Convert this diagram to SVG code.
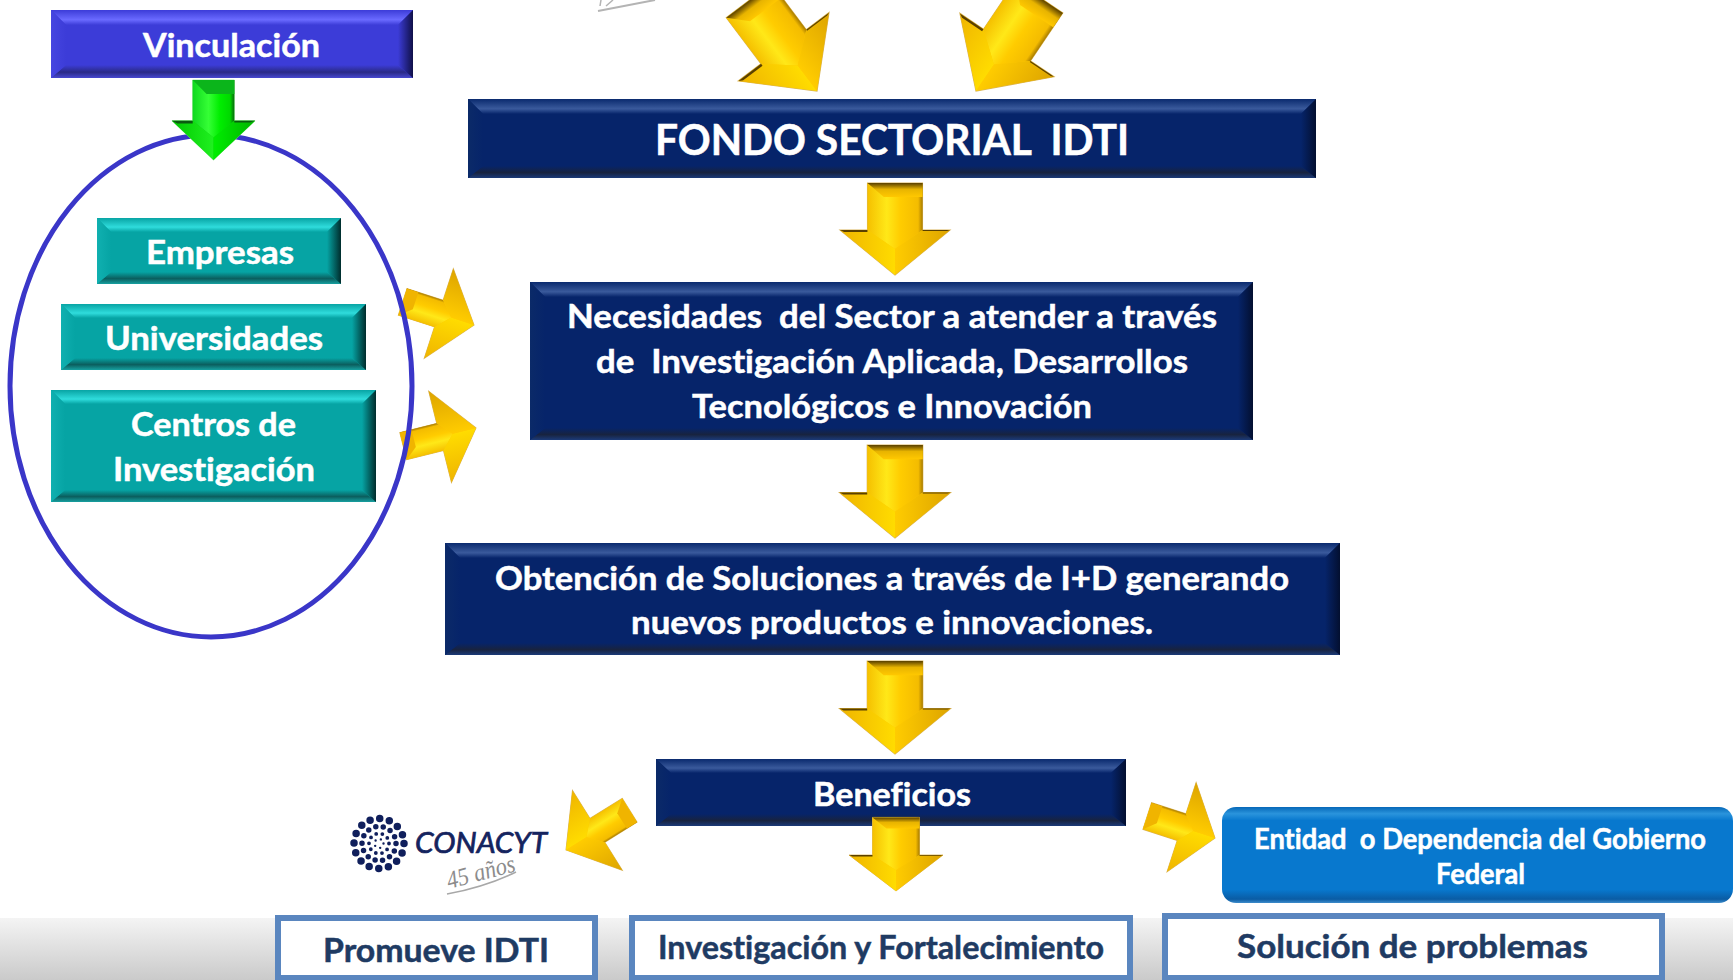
<svg xmlns="http://www.w3.org/2000/svg" width="1733" height="980" viewBox="0 0 1733 980">
<style>
.t{font-family:Lato,"Liberation Sans",sans-serif;font-weight:700;fill:#fff;stroke:#fff;stroke-width:.5;white-space:pre;font-variant-ligatures:none}
.d{fill:#1f3b63;stroke:#1f3b63}
.ln{fill:#fff;stroke:#5a86bf;stroke-width:6}
.e{stroke:#d9b45a;stroke-width:1}
.dk{fill:#5a4000}
.gk{fill:#0b5a10}
</style>
<defs>
<linearGradient id="band" x1="0" y1="0" x2="0" y2="1"><stop offset="0" stop-color="#f4f4f4"/><stop offset="1" stop-color="#cacaca"/></linearGradient>
<linearGradient id="navT" x1="0" y1="0" x2="0" y2="1"><stop offset="0" stop-color="#0a2a6e"/><stop offset=".65" stop-color="#3a5a9c"/><stop offset="1" stop-color="#06246a"/></linearGradient>
<linearGradient id="navB" x1="0" y1="0" x2="0" y2="1"><stop offset="0" stop-color="#06246a"/><stop offset=".55" stop-color="#18233f"/><stop offset="1" stop-color="#1b3a78"/></linearGradient>
<linearGradient id="navL" x1="0" y1="0" x2="1" y2="0"><stop offset="0" stop-color="#0b2a68"/><stop offset="1" stop-color="#06246a"/></linearGradient>
<linearGradient id="navR" x1="0" y1="0" x2="1" y2="0"><stop offset="0" stop-color="#06246a"/><stop offset="1" stop-color="#030f30"/></linearGradient>
<linearGradient id="bluT" x1="0" y1="0" x2="0" y2="1"><stop offset="0" stop-color="#3c3cd8"/><stop offset=".65" stop-color="#6a6aff"/><stop offset="1" stop-color="#3c3cd8"/></linearGradient>
<linearGradient id="bluB" x1="0" y1="0" x2="0" y2="1"><stop offset="0" stop-color="#3c3cd8"/><stop offset=".55" stop-color="#2a2a86"/><stop offset="1" stop-color="#4848d0"/></linearGradient>
<linearGradient id="bluL" x1="0" y1="0" x2="1" y2="0"><stop offset="0" stop-color="#4646e0"/><stop offset="1" stop-color="#3c3cd8"/></linearGradient>
<linearGradient id="bluR" x1="0" y1="0" x2="1" y2="0"><stop offset="0" stop-color="#3c3cd8"/><stop offset="1" stop-color="#101048"/></linearGradient>
<linearGradient id="tealT" x1="0" y1="0" x2="0" y2="1"><stop offset="0" stop-color="#08a4a4"/><stop offset=".65" stop-color="#2fdcdc"/><stop offset="1" stop-color="#06a4a4"/></linearGradient>
<linearGradient id="tealB" x1="0" y1="0" x2="0" y2="1"><stop offset="0" stop-color="#06a4a4"/><stop offset=".55" stop-color="#0b5e5e"/><stop offset="1" stop-color="#17a0a0"/></linearGradient>
<linearGradient id="tealL" x1="0" y1="0" x2="1" y2="0"><stop offset="0" stop-color="#10b0b0"/><stop offset="1" stop-color="#06a4a4"/></linearGradient>
<linearGradient id="tealR" x1="0" y1="0" x2="1" y2="0"><stop offset="0" stop-color="#06a4a4"/><stop offset="1" stop-color="#002c2c"/></linearGradient>
<linearGradient id="ent" x1="0" y1="0" x2="0" y2="1"><stop offset="0" stop-color="#0668b8"/><stop offset=".07" stop-color="#2a94dc"/><stop offset=".14" stop-color="#0878ce"/><stop offset=".86" stop-color="#0878ce"/><stop offset=".96" stop-color="#0a5ca4"/><stop offset="1" stop-color="#3d8ccb"/></linearGradient>
<linearGradient id="gS" x1="0" y1="0" x2="1" y2="0"><stop offset="0" stop-color="#f5c000"/><stop offset=".35" stop-color="#ffe818"/><stop offset=".6" stop-color="#ffcc00"/><stop offset=".92" stop-color="#f4bc00"/><stop offset="1" stop-color="#a87c00"/></linearGradient>
<linearGradient id="gT" x1="0" y1="0" x2="0" y2="1"><stop offset="0" stop-color="#5a4000"/><stop offset=".45" stop-color="#e8b400"/><stop offset="1" stop-color="#ffc800"/></linearGradient>
<linearGradient id="gL" x1="0" y1="0" x2="1" y2="0"><stop offset="0" stop-color="#efb400"/><stop offset="1" stop-color="#ffdc00"/></linearGradient>
<linearGradient id="gR" x1="0" y1="0" x2="1" y2="0"><stop offset="0" stop-color="#ffcc00"/><stop offset="1" stop-color="#dda400"/></linearGradient>
<linearGradient id="vS" x1="0" y1="0" x2="1" y2="0"><stop offset="0" stop-color="#0fd81f"/><stop offset=".38" stop-color="#35ff35"/><stop offset=".65" stop-color="#00ee00"/><stop offset=".9" stop-color="#00d800"/><stop offset="1" stop-color="#0a6a10"/></linearGradient>
<linearGradient id="vL" x1="0" y1="0" x2="1" y2="0"><stop offset="0" stop-color="#00c800"/><stop offset="1" stop-color="#20f020"/></linearGradient>
<linearGradient id="vR" x1="0" y1="0" x2="1" y2="0"><stop offset="0" stop-color="#00ee00"/><stop offset="1" stop-color="#00b400"/></linearGradient>
<g id="aw">
<polygon class="e" points="-27,-92 27,-92 27,-45 54,-45 0,0 -54,-45 -27,-45" fill="#ffc800"/>
<polygon points="-27,-92 27,-92 27,-45 0,-26 -27,-45" fill="url(#gS)"/>
<polygon points="-27,-92 27,-92 27,-78 -11,-78" fill="url(#gT)"/>
<polygon points="-54,-45 -27,-45 0,-26 0,0" fill="url(#gL)"/>
<polygon points="54,-45 27,-45 0,-26 0,0" fill="url(#gR)"/>
<polygon class="dk" points="-54,-45 -27,-45 -27,-43 -50,-43"/>
<polygon class="dk" points="54,-45 27,-45 27,-44 51,-44"/>
</g>
<g id="an">
<polygon class="e" points="-14,-75 14,-75 14,-37 47,-37 0,0 -47,-37 -14,-37" fill="#ffc800"/>
<polygon points="-14,-75 14,-75 14,-37 0,-24 -14,-37" fill="url(#gS)"/>
<polygon points="-14,-75 14,-75 14,-63 -4,-63" fill="#f0b400"/>
<polygon points="-47,-37 -14,-37 0,-24 0,0" fill="url(#gL)"/>
<polygon points="47,-37 14,-37 0,-24 0,0" fill="url(#gR)"/>
</g>
<g id="av">
<polygon points="-27,-92 27,-92 27,-45 54,-45 0,0 -54,-45 -27,-45" fill="#10d010" stroke="#8ae08a" stroke-width=".8"/>
<polygon points="-27,-92 27,-92 27,-45 0,-26 -27,-45" fill="url(#vS)"/>
<polygon points="-27,-92 27,-92 27,-76 -9,-76" fill="#0bb51b"/>
<polygon points="-54,-45 -27,-45 0,-26 0,0" fill="url(#vL)"/>
<polygon points="54,-45 27,-45 0,-26 0,0" fill="url(#vR)"/>
<polygon class="gk" points="-54,-45 -27,-45 -27,-42 -47,-42"/>
<polygon class="gk" points="54,-45 27,-45 27,-43 47,-43"/>
</g>
</defs>
<rect width="1733" height="980" fill="#fff"/>
<rect id="band-bottom" x="0" y="918" width="1733" height="62" fill="url(#band)"/>
<g id="logo-top-fragment" fill="none" stroke="#b4b4b4">
<path d="M598 11L655 0" stroke-width="2"/>
<path d="M600 6L601 0M606 6L613 0" stroke-width="1.5"/>
</g>

<g id="connectors-side">
<use href="#an" transform="translate(474,325) rotate(-72)"/>
<use href="#an" transform="translate(476,428) rotate(-104)"/>
</g>

<g id="node-ellipse"><ellipse cx="211" cy="386" rx="201" ry="251" fill="none" stroke="#3a36c8" stroke-width="5"/></g>

<g id="node-vinculacion">
<rect x="51" y="10" width="362" height="68" fill="#3c3cd8"/>
<polygon points="51,10 413,10 398,25 66,25" fill="url(#bluT)"/>
<polygon points="51,78 413,78 398,65 66,65" fill="url(#bluB)"/>
<polygon points="51,10 66,25 66,65 51,78" fill="url(#bluL)"/>
<polygon points="413,10 398,25 398,65 413,78" fill="url(#bluR)"/>
<text class="t" x="143" y="57" font-size="33" textLength="177" lengthAdjust="spacingAndGlyphs">Vinculación</text>
</g>

<g id="node-fondo">
<rect x="468" y="99" width="848" height="79" fill="#06246a"/>
<polygon points="468,99 1316,99 1301,114 483,114" fill="url(#navT)"/>
<polygon points="468,178 1316,178 1301,166 483,166" fill="url(#navB)"/>
<polygon points="468,99 483,114 483,166 468,178" fill="url(#navL)"/>
<polygon points="1316,99 1301,114 1301,166 1316,178" fill="url(#navR)"/>
<text class="t" x="655" y="155" font-size="42" textLength="474" lengthAdjust="spacingAndGlyphs">FONDO SECTORIAL  IDTI</text>
</g>

<g id="node-necesidades">
<rect x="530" y="282" width="723" height="158" fill="#06246a"/>
<polygon points="530,282 1253,282 1238,297 545,297" fill="url(#navT)"/>
<polygon points="530,440 1253,440 1238,428 545,428" fill="url(#navB)"/>
<polygon points="530,282 545,297 545,428 530,440" fill="url(#navL)"/>
<polygon points="1253,282 1238,297 1238,428 1253,440" fill="url(#navR)"/>
<text class="t" x="567" y="328" font-size="33" textLength="650" lengthAdjust="spacingAndGlyphs">Necesidades  del Sector a atender a través</text>
<text class="t" x="596" y="373" font-size="33" textLength="592" lengthAdjust="spacingAndGlyphs">de  Investigación Aplicada, Desarrollos</text>
<text class="t" x="692" y="418" font-size="33" textLength="400" lengthAdjust="spacingAndGlyphs">Tecnológicos e Innovación</text>
</g>

<g id="node-obtencion">
<rect x="445" y="543" width="895" height="112" fill="#06246a"/>
<polygon points="445,543 1340,543 1325,558 460,558" fill="url(#navT)"/>
<polygon points="445,655 1340,655 1325,643 460,643" fill="url(#navB)"/>
<polygon points="445,543 460,558 460,643 445,655" fill="url(#navL)"/>
<polygon points="1340,543 1325,558 1325,643 1340,655" fill="url(#navR)"/>
<text class="t" x="495" y="590" font-size="33" textLength="794" lengthAdjust="spacingAndGlyphs">Obtención de Soluciones a través de I+D generando</text>
<text class="t" x="631" y="634" font-size="33" textLength="522" lengthAdjust="spacingAndGlyphs">nuevos productos e innovaciones.</text>
</g>

<g id="node-beneficios">
<rect x="656" y="759" width="470" height="67" fill="#06246a"/>
<polygon points="656,759 1126,759 1111,773 671,773" fill="url(#navT)"/>
<polygon points="656,826 1126,826 1111,814 671,814" fill="url(#navB)"/>
<polygon points="656,759 671,773 671,814 656,826" fill="url(#navL)"/>
<polygon points="1126,759 1111,773 1111,814 1126,826" fill="url(#navR)"/>
<text class="t" x="813" y="806" font-size="33" textLength="158" lengthAdjust="spacingAndGlyphs">Beneficios</text>
</g>

<g id="node-empresas">
<rect x="97" y="218" width="244" height="66" fill="#06a4a4"/>
<polygon points="97,218 341,218 327,232 111,232" fill="url(#tealT)"/>
<polygon points="97,284 341,284 327,272 111,272" fill="url(#tealB)"/>
<polygon points="97,218 111,232 111,272 97,284" fill="url(#tealL)"/>
<polygon points="341,218 327,232 327,272 341,284" fill="url(#tealR)"/>
<text class="t" x="146" y="264" font-size="33" textLength="148" lengthAdjust="spacingAndGlyphs">Empresas</text>
</g>

<g id="node-universidades">
<rect x="61" y="304" width="305" height="66" fill="#06a4a4"/>
<polygon points="61,304 366,304 352,318 75,318" fill="url(#tealT)"/>
<polygon points="61,370 366,370 352,358 75,358" fill="url(#tealB)"/>
<polygon points="61,304 75,318 75,358 61,370" fill="url(#tealL)"/>
<polygon points="366,304 352,318 352,358 366,370" fill="url(#tealR)"/>
<text class="t" x="105" y="350" font-size="33" textLength="218" lengthAdjust="spacingAndGlyphs">Universidades</text>
</g>

<g id="node-centros">
<rect x="51" y="390" width="325" height="112" fill="#06a4a4"/>
<polygon points="51,390 376,390 362,404 65,404" fill="url(#tealT)"/>
<polygon points="51,502 376,502 362,490 65,490" fill="url(#tealB)"/>
<polygon points="51,390 65,404 65,490 51,502" fill="url(#tealL)"/>
<polygon points="376,390 362,404 362,490 376,502" fill="url(#tealR)"/>
<text class="t" x="131" y="436" font-size="33" textLength="165" lengthAdjust="spacingAndGlyphs">Centros de</text>
<text class="t" x="113" y="481" font-size="33" textLength="202" lengthAdjust="spacingAndGlyphs">Investigación</text>
</g>

<g id="node-entidad">
<rect x="1222" y="807" width="511" height="96" rx="14" fill="url(#ent)"/>
<text class="t" x="1254" y="849" font-size="28" textLength="452" lengthAdjust="spacingAndGlyphs">Entidad  o Dependencia del Gobierno</text>
<text class="t" x="1436" y="884" font-size="28" textLength="89" lengthAdjust="spacingAndGlyphs">Federal</text>
</g>

<g id="node-conacyt">
<g fill="none" stroke="#101f5c" stroke-linecap="round">
<circle cx="379" cy="843.5" r="25" stroke-width="7.5" stroke-dasharray="0 9.817"/>
<circle cx="379" cy="843.5" r="17" stroke-width="5.5" stroke-dasharray="0 7.63"/>
<circle cx="379" cy="843.5" r="10" stroke-width="3.8" stroke-dasharray="0 6.28"/>
<circle cx="379" cy="843.5" r="4.5" stroke-width="2.4" stroke-dasharray="0 5.65"/>
</g>
<text x="415" y="853" font-family="Lato,'Liberation Sans',sans-serif" font-size="28" font-style="italic" fill="#14235e" stroke="#14235e" stroke-width=".7" textLength="132" lengthAdjust="spacingAndGlyphs">CONACYT</text>
<text transform="translate(449,889) rotate(-15)" font-family="'Liberation Serif',serif" font-size="25" font-style="italic" fill="#8c8c8c" textLength="70" lengthAdjust="spacingAndGlyphs">45 años</text>
<path d="M447 894Q485 887 516 872" fill="none" stroke="#a8a8a8" stroke-width="1.6"/>
</g>

<g id="node-promueve">
<rect class="ln" x="278" y="918" width="317" height="60"/>
<text class="t d" x="323" y="962" font-size="33" textLength="226" lengthAdjust="spacingAndGlyphs">Promueve IDTI</text>
</g>
<g id="node-investigacion">
<rect class="ln" x="632" y="918" width="498" height="60"/>
<text class="t d" x="658" y="959" font-size="33" textLength="446" lengthAdjust="spacingAndGlyphs">Investigación y Fortalecimiento</text>
</g>
<g id="node-solucion">
<rect class="ln" x="1165" y="916" width="497" height="62"/>
<text class="t d" x="1237" y="958" font-size="33" textLength="351" lengthAdjust="spacingAndGlyphs">Solución de problemas</text>
</g>

<g id="connectors">
<use href="#av" transform="translate(213.5,160) scale(.77,.87)"/>
<use href="#aw" transform="translate(817,91) rotate(-37) scale(1.05,1.23)"/>
<use href="#aw" transform="translate(976,91) rotate(34) scale(1.05,1.23)"/>
<use href="#aw" transform="translate(895,275) scale(1.02,1)"/>
<use href="#aw" transform="translate(895,538) scale(1.03,1.01)"/>
<use href="#aw" transform="translate(895,754) scale(1.03,1.01)"/>
<use href="#aw" transform="translate(896,891) scale(.87,.8)"/>
<use href="#an" transform="translate(566,850) rotate(58)"/>
<use href="#an" transform="translate(1215,838) rotate(-72) scale(1,.95)"/>
</g>
</svg>
